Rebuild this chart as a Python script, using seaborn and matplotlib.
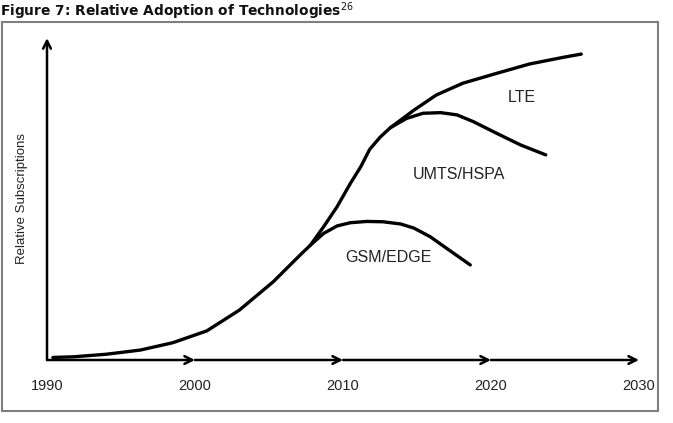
import numpy as np
import pandas as pd
import matplotlib
matplotlib.use('Agg')
import matplotlib.pyplot as plt
from matplotlib.patches import Rectangle
import seaborn as sns

# 読み取った値 (年, 相対加入数 0-100)
main_year = [1990.4, 1991.8, 1994.0, 1996.3, 1998.5, 2000.8, 2003.0, 2005.3, 2007.1, 2007.8,
             2008.7, 2009.6, 2010.5, 2011.2, 2011.8, 2012.5, 2013.2, 2014.8, 2016.3, 2018.1,
             2020.4, 2022.6, 2024.9, 2026.1]
main_val = [0.8, 1.0, 1.8, 3.1, 5.4, 9.1, 15.6, 24.5, 32.8, 35.9,
            41.7, 47.9, 55.2, 60.4, 65.8, 69.6, 72.6, 78.1, 82.8, 86.5,
            89.6, 92.5, 94.6, 95.6]

gsm_year = [2007.8, 2008.7, 2009.1, 2009.6, 2010.5, 2011.6, 2012.7, 2013.9, 2014.8,
            2015.9, 2017.0, 2018.6]
gsm_val = [35.9, 39.6, 40.6, 41.9, 42.9, 43.3, 43.2, 42.5, 41.2,
           38.5, 34.9, 29.7]

umts_year = [2013.2, 2014.3, 2015.4, 2016.6, 2017.7, 2018.8, 2020.4, 2022.0, 2023.7]
umts_val = [72.6, 75.5, 77.1, 77.3, 76.6, 74.5, 70.8, 67.2, 64.1]

labels = ['LTE', 'UMTS/HSPA', 'GSM/EDGE']
label_year = [2022.1, 2017.8, 2013.1]
label_val = [81.9, 58.1, 31.9]

ticks = [1990, 2000, 2010, 2020, 2030]

sns.set_theme(style='white')
plt.rcParams['font.family'] = ['Liberation Sans', 'DejaVu Sans']

fig = plt.figure(figsize=(6.73, 4.23), dpi=100)
ax = fig.add_axes([47 / 673, 63 / 423, 592 / 673, 320 / 423])

for xs, ys in [(main_year, main_val), (gsm_year, gsm_val), (umts_year, umts_val)]:
    df = pd.DataFrame({'year': xs, 'val': ys})
    sns.lineplot(data=df, x='year', y='val', sort=False, estimator=None,
                 color='black', lw=2.4, ax=ax, solid_capstyle='round',
                 solid_joinstyle='round')

for t, x, y in zip(labels, label_year, label_val):
    ax.text(x, y, t, ha='center', va='center', fontsize=11.5, color='#222222')

# 軸の矢印
arrow = dict(arrowstyle='->', lw=1.8, color='black', shrinkA=0, shrinkB=0,
             mutation_scale=14)
for a, b in zip(ticks[:-1], ticks[1:]):
    ax.annotate('', xy=(b, 0), xytext=(a, 0), arrowprops=arrow, annotation_clip=False)
ax.annotate('', xy=(1990, 100.6), xytext=(1990, 0), arrowprops=arrow, annotation_clip=False)

ax.set_xlim(1990, 2030)
ax.set_ylim(0, 100)
ax.set_xticks(ticks)
ax.set_xticklabels([str(t) for t in ticks], fontsize=10.5, color='#222222')
ax.set_yticks([])
ax.tick_params(axis='x', length=0, pad=14)
ax.set_xlabel('')
ax.set_ylabel('')
for s in ax.spines.values():
    s.set_visible(False)

fig.text(22 / 673, 1 - 198 / 423, 'Relative Subscriptions', rotation=90,
         ha='center', va='center', fontsize=9.5, color='#222222')

# 枠
fig.patches.append(Rectangle((2 / 673, 1 - 411 / 423), 656 / 673, 389 / 423,
                             transform=fig.transFigure, fill=False,
                             edgecolor='#7f7f7f', lw=1.5))

fig.text(0, 1 - 11 / 423, 'Figure 7: Relative Adoption of Technologies$^{26}$',
         family='DejaVu Sans', fontweight='bold', fontsize=9.9, va='center', ha='left',
         color='#111111')

fig.savefig('out.png', dpi=100)
